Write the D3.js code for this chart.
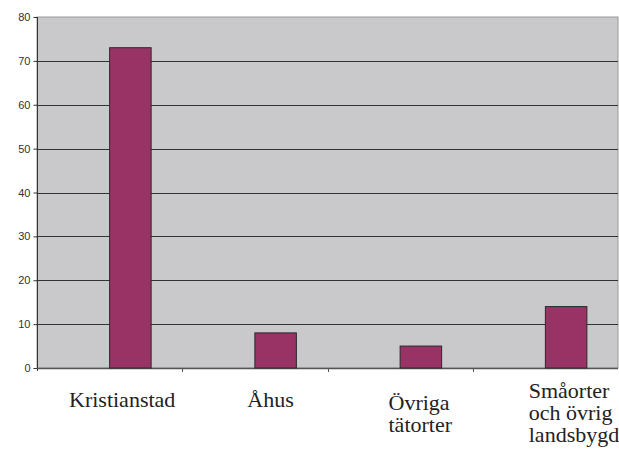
<!DOCTYPE html>
<html>
<head>
<meta charset="utf-8">
<script src="https://cdn.jsdelivr.net/npm/d3@7"></script>
<style>
  body { margin: 0; background: #fff; }
</style>
</head>
<body>
<div class="chart"></div>
<script>
// data
const categories = ["Kristianstad", "Åhus", "Övriga tätorter", "Småorter och övrig landsbygd"];
const values = [73, 8, 5, 14];
const labelLines = [["Kristianstad"], ["Åhus"], ["Övriga", "tätorter"], ["Småorter", "och övrig", "landsbygd"]];
const yTicks = [0, 10, 20, 30, 40, 50, 60, 70, 80];

function init(){
    const w = 619, h = 449;
    const plot = {left: 37, right: 618, top: 17, bottom: 368};

    const svg = d3.select(".chart").append("svg").attr("width", w).attr("height", h);

    // category bands, the chart had an empty first series so the bar sits in the 2nd slot
    const x0 = d3.scaleBand().domain(categories).range([plot.left, plot.right]).padding(0);
    const x1 = d3.scaleBand().domain(["empty", "value"]).range([0, x0.bandwidth()])
        .paddingInner(0).paddingOuter(0.75);
    const y = d3.scaleLinear().domain([0, 80]).range([plot.bottom, plot.top]);

    // background
    svg.append("rect")
        .attr("x", plot.left).attr("y", plot.top)
        .attr("width", plot.right - plot.left).attr("height", plot.bottom - plot.top)
        .attr("fill", "#c9c9cb")
        .attr("stroke", "#9a9a9a").attr("stroke-width", 1);

    // gridlines
    svg.append("g").selectAll("line")
        .data(yTicks.filter(d => d > 0 && d < 80))
        .join("line")
        .attr("x1", plot.left).attr("x2", plot.right)
        .attr("y1", d => Math.round(y(d)) + 0.5).attr("y2", d => Math.round(y(d)) + 0.5)
        .attr("stroke", "#333").attr("stroke-width", 1);

    // y axis
    const yAxis = svg.append("g")
        .attr("transform", `translate(${plot.left + 0.5},0)`)
        .call(d3.axisLeft(y).tickValues(yTicks).tickSize(4).tickPadding(3).tickFormat(d3.format("d")));
    yAxis.select(".domain").attr("stroke", "#333").attr("d", `M0,${plot.top}V${plot.bottom + 3}`);
    yAxis.selectAll(".tick line").attr("stroke", "#333");
    yAxis.selectAll(".tick text")
        .attr("font-family", "Liberation Sans, Arial, sans-serif")
        .attr("font-size", 11).attr("fill", "#333");

    // x axis line with ticks at category borders
    svg.append("line")
        .attr("x1", plot.left).attr("x2", plot.right)
        .attr("y1", plot.bottom + 0.5).attr("y2", plot.bottom + 0.5)
        .attr("stroke", "#555").attr("stroke-width", 1.5);
    svg.append("g").selectAll("line")
        .data(categories.slice(1))
        .join("line")
        .attr("x1", d => Math.round(x0(d)) + 0.5).attr("x2", d => Math.round(x0(d)) + 0.5)
        .attr("y1", plot.bottom).attr("y2", plot.bottom + 4)
        .attr("stroke", "#555");

    // bars
    svg.append("g").selectAll("rect")
        .data(values)
        .join("rect")
        .attr("x", (d, i) => x0(categories[i]) + x1("value"))
        .attr("y", d => y(d))
        .attr("width", x1.bandwidth())
        .attr("height", d => y(0) - y(d))
        .attr("fill", "#993366")
        .attr("stroke", "#2a2a2a").attr("stroke-width", 1);

    // category labels (serif, as in the original document)
    const nudge = [32, 65, 61, 56];
    const firstBaseline = [407, 407, 410, 398];
    const labels = svg.append("g")
        .attr("font-family", "Liberation Serif, Times New Roman, serif")
        .attr("font-size", 22).attr("fill", "#222");
    labelLines.forEach((lines, i) => {
        const t = labels.append("text")
            .attr("x", x0(categories[i]) + nudge[i])
            .attr("y", firstBaseline[i]);
        lines.forEach((line, j) => {
            t.append("tspan")
                .attr("x", x0(categories[i]) + nudge[i])
                .attr("dy", j === 0 ? 0 : 22)
                .text(line);
        });
    });
}
window.onload = init;
</script>
</body>
</html>
